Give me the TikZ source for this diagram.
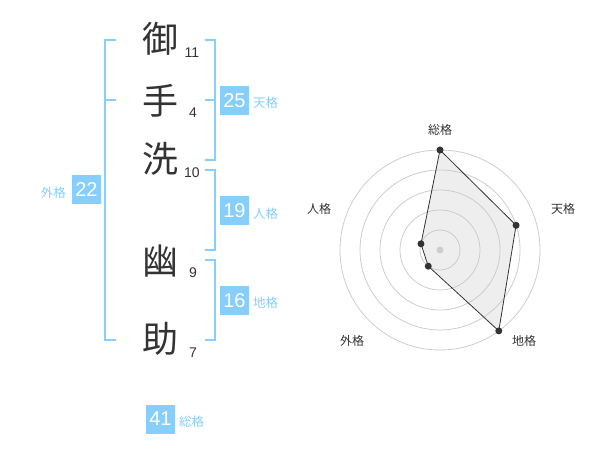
\documentclass[tikz,border=0pt]{standalone}
\usepackage{fontspec}
\usetikzlibrary{calc}
\setmainfont{Liberation Sans}
\newfontfamily\cjk{Noto Sans CJK JP}
\definecolor{sky}{RGB}{135,206,250}
\definecolor{ink}{RGB}{51,51,51}
\definecolor{ringgray}{RGB}{205,205,205}
\definecolor{area}{RGB}{200,200,200}
\begin{document}
\begin{tikzpicture}[x=1pt,y=-1pt,
  kanji/.style={font=\cjk\fontsize{36}{36}\selectfont, text=ink, inner sep=0},
  strokes/.style={font=\fontsize{14}{14}\selectfont, text=ink, inner sep=0},
  numbox/.style={fill=sky, text=white, minimum width=29pt, minimum height=29pt, inner sep=0, font=\fontsize{20}{20}\selectfont},
  kaku/.style={font=\cjk\fontsize{12.5}{13}\selectfont, text=sky, inner sep=0},
  bracket/.style={draw=sky, line width=2pt},
  axislabel/.style={font=\cjk\fontsize{12}{13}\selectfont, text=ink, inner sep=0},
  dot/.style={circle, fill=ink, inner sep=0, minimum size=7pt},
  ringline/.style={draw=ringgray, line width=0.8pt},
]
\useasboundingbox (0,0) rectangle (600,470);

% name characters
\node[kanji] (c1) at (160,39) {御};
\node[kanji] (c2) at (160,101) {手};
\node[kanji] (c3) at (160,159) {洗};
\node[kanji] (c4) at (160,261) {幽};
\node[kanji] (c5) at (160,339) {助};
% stroke counts
\node[strokes] (n1) at (192,53) {11};
\node[strokes] (n2) at (193,113) {4};
\node[strokes] (n3) at (192,173) {10};
\node[strokes] (n4) at (193,273) {9};
\node[strokes] (n5) at (193,353) {7};

% brackets
\draw[bracket] (116,40) -- (105,40) -- (105,340) -- (116,340);
\draw[bracket] (105,100) -- (116,100);
\draw[bracket] (205,40) -- (215,40) -- (215,160) -- (205,160);
\draw[bracket] (205,100) -- (215,100);
\draw[bracket] (205,170) -- (215,170) -- (215,250) -- (205,250);
\draw[bracket] (205,260) -- (215,260) -- (215,340) -- (205,340);

% boxes and labels
\node[numbox] (b25) at (234.5,100.5) {25};
\node[kaku, anchor=west] (l25) at (253,103) {天格};
\node[numbox] (b19) at (234.5,211) {19};
\node[kaku, anchor=west] (l19) at (253,214) {人格};
\node[numbox] (b16) at (234.5,300.5) {16};
\node[kaku, anchor=west] (l16) at (253,303) {地格};
\node[numbox] (b22) at (86.5,190) {22};
\node[kaku, anchor=east] (l22) at (66,193) {外格};
\node[numbox] (b41) at (160.5,419) {41};
\node[kaku, anchor=west] (l41) at (179,422) {総格};

% radar chart
\coordinate (o) at (440,250);
\foreach \r in {20,40,60,80,100} \draw[ringline] (o) circle[radius=\r];
\coordinate (pso) at ($(o)+(0,-100)$);
\coordinate (pten) at ($(o)+({80*cos(18)},{-80*sin(18)})$);
\coordinate (pchi) at ($(o)+({100*cos(54)},{100*sin(54)})$);
\coordinate (pgai) at ($(o)+({-20*cos(54)},{20*sin(54)})$);
\coordinate (pjin) at ($(o)+({-20*cos(18)},{-20*sin(18)})$);
\fill[area, fill opacity=0.3] (pso) -- (pten) -- (pchi) -- (pgai) -- (pjin) -- cycle;
\draw[ink, line width=0.8pt] (pso) -- (pten) -- (pchi) -- (pgai) -- (pjin) -- cycle;
\fill[ringgray] (o) circle[radius=3.5];
\foreach \p in {pso,pten,pchi,pgai,pjin} \node[dot] at (\p) {};
\node[axislabel] (aso) at (440,130) {総格};
\node[axislabel] (aten) at (563,209) {天格};
\node[axislabel] (achi) at (524,341) {地格};
\node[axislabel] (agai) at (352,341) {外格};
\node[axislabel] (ajin) at (319,209) {人格};
\end{tikzpicture}
\end{document}
